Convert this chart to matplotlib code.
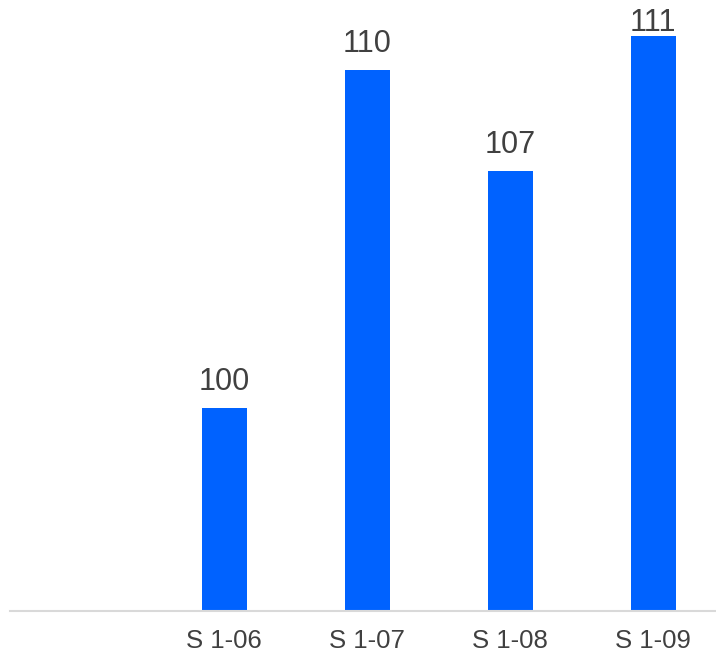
import matplotlib
matplotlib.use("Agg")
import matplotlib.pyplot as plt

categories = ["", "S 1-06", "S 1-07", "S 1-08", "S 1-09"]
values = [None, 100, 110, 107, 111]

plt.rcParams['font.family'] = ['Liberation Sans', 'DejaVu Sans']

W, H = 716, 657
fig = plt.figure(figsize=(W/100, H/100), dpi=100)
ax = fig.add_axes([10/W, 46/H, 706/W, 611/H])

xs = list(range(len(categories)))
bx = [x for x, v in zip(xs, values) if v is not None]
bv = [v for v in values if v is not None]
ax.bar(bx, bv, width=0.315, color="#0062FF", zorder=2)

ax.set_xlim(-0.5, 4.44)
ax.set_ylim(94.0, 112.07)
ax.set_xticks(xs)
ax.set_xticklabels(categories, fontsize=18.5, color="#404040")
ax.tick_params(axis="x", length=0, pad=13)
ax.set_yticks([])
for s in ["top", "right", "left"]:
    ax.spines[s].set_visible(False)
ax.spines["bottom"].set_color("#d9d9d9")
ax.spines["bottom"].set_linewidth(1.5)
ax.patch.set_alpha(0)

labels = []
for x, v in zip(bx, bv):
    t = ax.annotate(str(v), (x, v), xytext=(0, 8), textcoords="offset points",
                    ha="center", va="bottom", fontsize=22, color="#404040",
                    annotation_clip=False, zorder=3)
    labels.append(t)

# keep labels inside the figure (like the reference, which nudges the top label down)
fig.canvas.draw()
r = fig.canvas.get_renderer()
for t in labels:
    bb = t.get_window_extent(r)
    top_limit = H - 8
    if bb.y1 > top_limit:
        dy = (bb.y1 - top_limit) * 72 / 100
        t.xyann = (0, 8 - dy)

fig.savefig("out.png", dpi=100)
